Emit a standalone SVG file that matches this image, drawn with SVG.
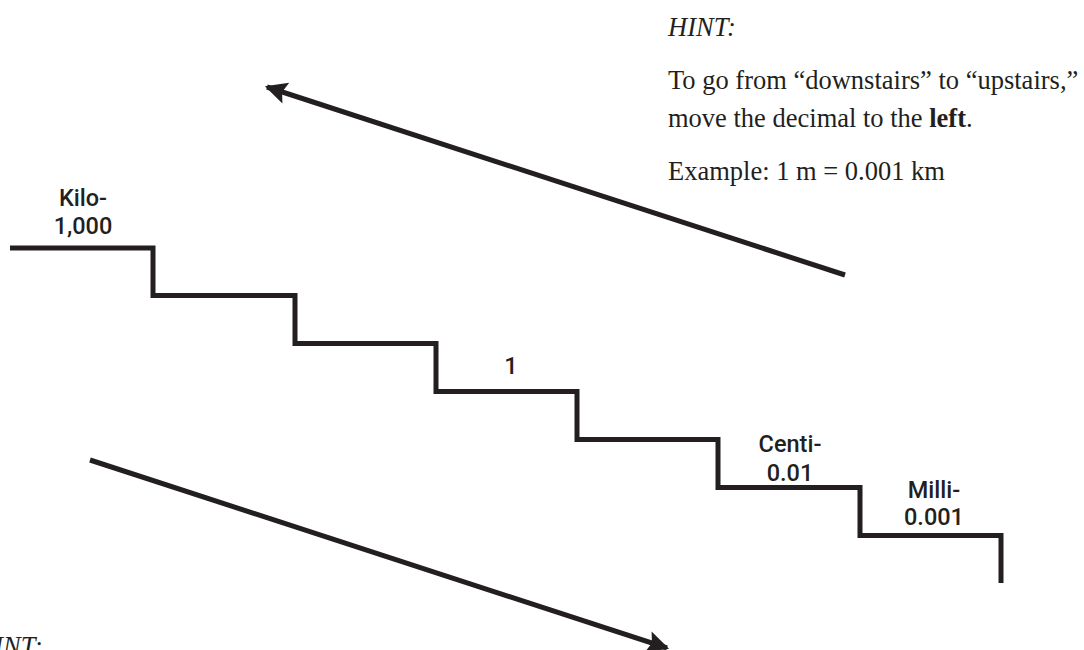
<svg xmlns="http://www.w3.org/2000/svg" width="1084" height="650" viewBox="0 0 1084 650">
  <defs>
    <style>
      .serif { font-family: "Liberation Serif", "Times New Roman", serif; font-size: 26.5px; fill: #231f20; }
      .it { font-style: italic; }
      .lbl { font-family: Roboto, "Liberation Sans", Arial, sans-serif; font-weight: 500; font-size: 23.5px; fill: #231f20; text-anchor: middle; }
      .stair { fill: none; stroke: #231f20; stroke-width: 5; stroke-linejoin: miter; }
      .arrow { fill: none; stroke: #231f20; stroke-width: 5; }
    </style>
    <marker id="head" viewBox="0 0 10 10" refX="9" refY="5" markerWidth="6.2" markerHeight="4.4" markerUnits="strokeWidth" orient="auto">
      <path d="M0,0 L10,5 L0,10 L1.8,5 Z" fill="#231f20"/>
    </marker>
  </defs>
  <rect width="1084" height="650" fill="#ffffff"/>

  <g id="stairs">
    <path class="stair" d="M10,248 H153 V295.5 H295 V343.5 H436 V391.5 H577 V439.5 H718 V487.5 H860 V535.5 H1001 V583"/>
  </g>

  <g id="connectors">
    <line class="arrow" x1="845" y1="275" x2="267" y2="87" marker-end="url(#head)"/>
    <line class="arrow" x1="90" y1="460" x2="667" y2="648" marker-end="url(#head)"/>
  </g>

  <g id="kilo">
    <text class="lbl" x="83" y="206">Kilo-</text>
    <text class="lbl" x="83" y="234">1,000</text>
  </g>
  <g id="unit">
    <text class="lbl" x="511" y="374">1</text>
  </g>
  <g id="centi">
    <text class="lbl" x="790" y="452">Centi-</text>
    <text class="lbl" x="790" y="481">0.01</text>
  </g>
  <g id="milli">
    <text class="lbl" x="934" y="498">Milli-</text>
    <text class="lbl" x="934" y="525">0.001</text>
  </g>

  <g id="hint-top">
    <text class="serif it" x="668" y="36">HINT:</text>
    <text class="serif" x="668" y="89">To go from “downstairs” to “upstairs,”</text>
    <text class="serif" x="668" y="127">move the decimal to the <tspan font-weight="bold">left</tspan>.</text>
    <text class="serif" x="668" y="180">Example: 1 m = 0.001 km</text>
  </g>

  <g id="hint-bottom">
    <text class="serif it" x="-25" y="655">HINT:</text>
  </g>
</svg>
